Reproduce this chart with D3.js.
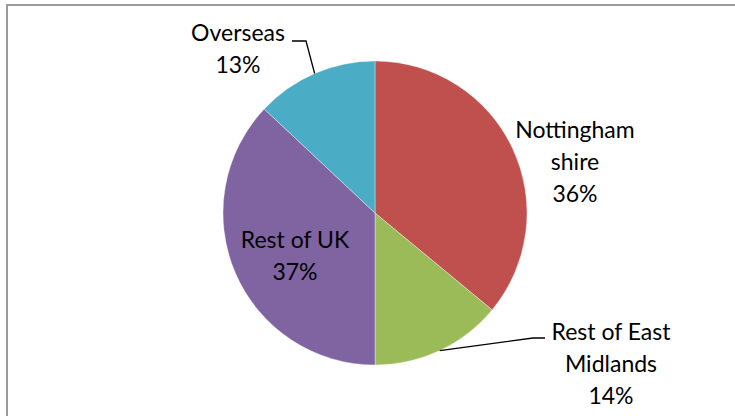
<!DOCTYPE html>
<html>
<head>
<meta charset="utf-8">
<script src="https://cdn.jsdelivr.net/npm/d3@7"></script>
<style>
  html, body { margin: 0; padding: 0; background: #fff; }
  svg { display: block; }
  text { font-family: Lato, "Open Sans", sans-serif; fill: #000; }
</style>
</head>
<body>
<svg id="chart" width="735" height="416"></svg>
<script>
// Where visitors come from
const categories = ["Nottinghamshire", "Rest of East Midlands", "Rest of UK", "Overseas"];
const shares = [36, 14, 37, 13];
const labelLines = [["Nottingham", "shire"], ["Rest of East", "Midlands"], ["Rest of UK"], ["Overseas"]];
const colors = ["#C0504D", "#9BBB59", "#8064A2", "#4BACC6"];

const width = 735, height = 416;
const cx = 375, cy = 213, radius = 152;
const fontSize = 23, lineHeight = 32;

const svg = d3.select("#chart");

// chart frame (runs off the right and bottom edges)
svg.append("path")
  .attr("d", `M7,${height + 2}V5H${width + 2}`)
  .attr("fill", "none")
  .attr("stroke", "#9a9a9a")
  .attr("stroke-width", 2);

const data = categories.map((c, i) => ({ name: c, value: shares[i], lines: labelLines[i], color: colors[i] }));

const pie = d3.pie().sort(null).value(d => d.value);
const arcs = pie(data);
const arc = d3.arc().innerRadius(0).outerRadius(radius);

const g = svg.append("g").attr("transform", `translate(${cx},${cy})`);

g.selectAll("path.slice")
  .data(arcs)
  .join("path")
  .attr("class", "slice")
  .attr("d", arc)
  .attr("fill", d => d.data.color)
  .attr("stroke", "#fff")
  .attr("stroke-width", 0.6)
  .attr("stroke-opacity", 0.6);

// label placement: centre of each text block relative to the pie centre
const labelPos = [
  { x: 200, y: -51 },   // Nottinghamshire (outside, no leader)
  { x: 236, y: 151 },   // Rest of East Midlands (leader)
  { x: -80, y: 43 },    // Rest of UK (inside)
  { x: -137, y: -164 }  // Overseas (leader)
];

arcs.forEach((a, i) => {
  const lines = a.data.lines.concat([a.data.value + "%"]);
  const p = labelPos[i];
  const top = p.y - (lines.length - 1) * lineHeight / 2;
  const t = g.append("text")
    .attr("text-anchor", "middle")
    .attr("font-size", fontSize);
  lines.forEach((s, k) => {
    t.append("tspan")
      .attr("x", p.x)
      .attr("y", top + k * lineHeight)
      .attr("dy", "0.35em")
      .text(s);
  });
});

// leader lines from slice edge to label
const edge = d => {
  const m = (d.startAngle + d.endAngle) / 2;
  return [Math.sin(m) * radius, -Math.cos(m) * radius];
};
const line = d3.line();
const rem = arcs[1], ovs = arcs[3];
const e1 = edge(rem);
g.append("path")
  .attr("d", line([e1, [158, 125], [170, 125]]))
  .attr("fill", "none").attr("stroke", "#000").attr("stroke-width", 1.3);
const e3 = edge(ovs);
g.append("path")
  .attr("d", line([e3, [-69, -172], [-83, -172]]))
  .attr("fill", "none").attr("stroke", "#000").attr("stroke-width", 1.3);
</script>
</body>
</html>
